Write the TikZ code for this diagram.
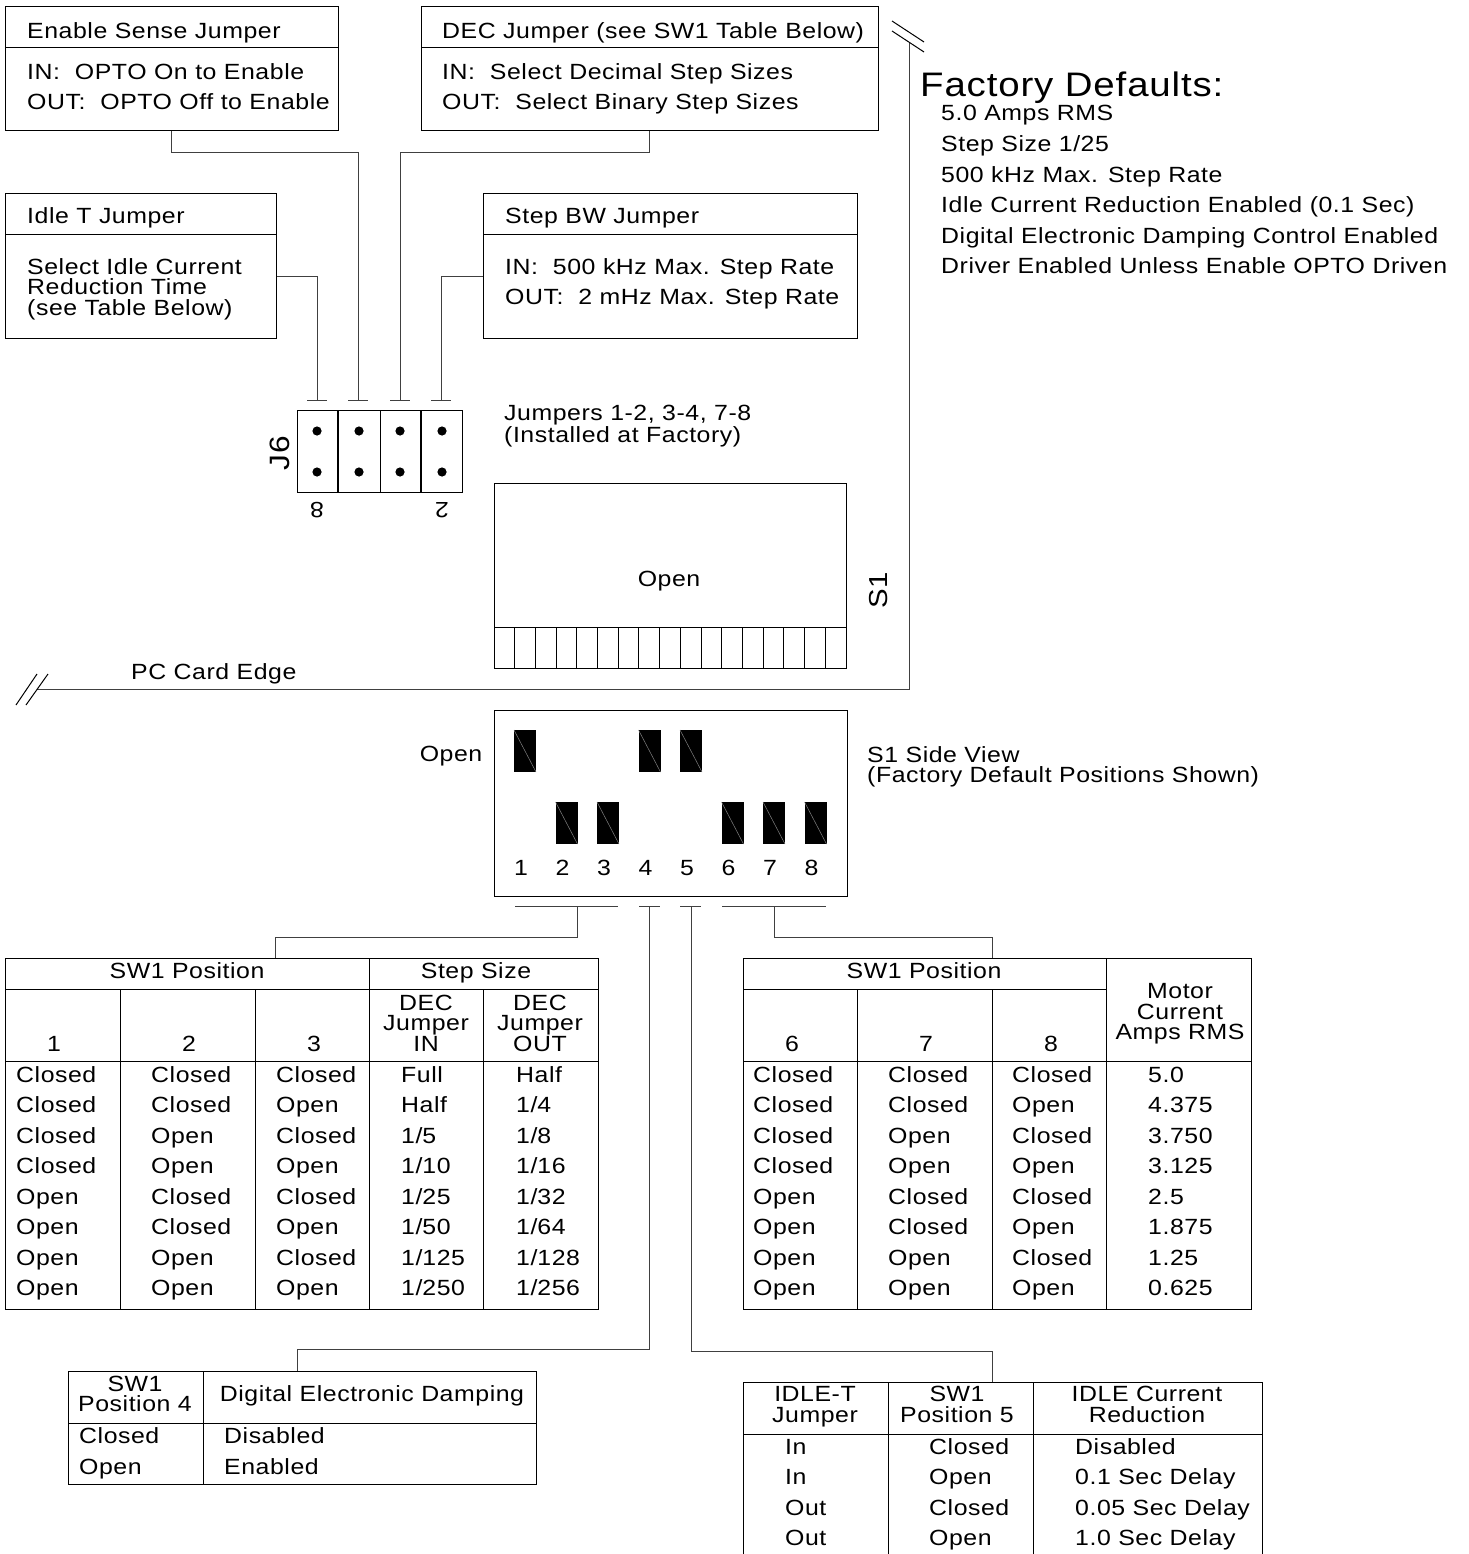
\documentclass[tikz,border=0pt]{standalone}
\usepackage{fontspec}
\setmainfont[FakeStretch=1.13,LetterSpace=2.5]{Liberation Sans}

\tikzset{
    boxshape/.style={draw, line width=1pt, minimum width=#1, inner sep=0pt},
    wire/.style={line width=1pt, draw=black!75},
    rule/.style={line width=1pt},
    label/.style={anchor=west, inner sep=0pt, text height=15.8pt, text depth=0pt, font=\fontsize{22}{20.5}\selectfont},
    midlabel/.style={inner sep=0pt, text height=15.8pt, text depth=0pt, font=\fontsize{22}{20.5}\selectfont},
    leftblock/.style={anchor=west, inner sep=0pt, align=left, yshift=-2.2pt, font=\fontsize{22}{20.5}\selectfont,
        execute at begin node=\vphantom{(}, execute at end node=\vphantom{(}},
    midblock/.style={inner sep=0pt, align=center, yshift=-2.2pt, font=\fontsize{22}{20.5}\selectfont,
        execute at begin node=\vphantom{(}, execute at end node=\vphantom{(}},
}

\begin{document}
\begin{tikzpicture}[x=1pt,y=-1pt]
    \useasboundingbox (0,0) rectangle (1468,1554);

    % Jumper boxes
    \node[boxshape=333pt, minimum height=124pt] (enablebox) at (171.5,69) {};
    \node[boxshape=457pt, minimum height=124pt] (decbox) at (649.5,69) {};
    \node[boxshape=271pt, minimum height=144pt] (idlebox) at (140.5,266) {};
    \node[boxshape=374pt, minimum height=144pt] (stepbox) at (670,266) {};
    \draw[rule] (5,48) -- (338,48);
    \draw[rule] (421,48) -- (878,48);
    \draw[rule] (5,235) -- (276,235);
    \draw[rule] (483,235) -- (857,235);

    % Jumper box texts
    \node[label] (enabletitle) at (27,31) {Enable Sense Jumper};
    \node[label] (enablein) at (27,72) {IN:\ \ OPTO On to Enable};
    \node[label] (enableout) at (27,102) {OUT:\ \ OPTO Off to Enable};
    \node[label] (dectitle) at (442,31) {DEC Jumper (see SW1 Table Below)};
    \node[label] (decin) at (442,72) {IN:\ \ Select Decimal Step Sizes};
    \node[label] (decout) at (442,102) {OUT:\ \ Select Binary Step Sizes};
    \node[label] (idletitle) at (27,216) {Idle T Jumper};
    \node[leftblock] (idletext) at (27,287) {Select Idle Current\\Reduction Time\\(see Table Below)};
    \node[label] (steptitle) at (505,216) {Step BW Jumper};
    \node[label] (stepin) at (505,267) {IN:\ \ 500 kHz Max. Step Rate};
    \node[label] (stepout) at (505,297) {OUT:\ \ 2 mHz Max. Step Rate};

    % Pin ends above J6
    \coordinate (pinA) at (317,400);
    \coordinate (pinB) at (358,400);
    \coordinate (pinC) at (400,400);
    \coordinate (pinD) at (441,400);
    \foreach \pin in {pinA,pinB,pinC,pinD}
        \draw[wire] ([xshift=-10pt]\pin) -- ([xshift=10pt]\pin);

    % Jumper connectors
    \draw[wire] ([yshift=-10pt]idlebox.east) -| (pinA);
    \draw[wire] (enablebox.south) -- ++(0,21) -| (pinB);
    \draw[wire] (decbox.south) -- ++(0,21) -| (pinC);
    \draw[wire] ([yshift=-10pt]stepbox.west) -| (pinD);

    % J6 block
    \node[boxshape=165pt, minimum height=82pt] (jsix) at (379.5,451.5) {};
    \draw[line width=1.6pt] (338,411) -- (338,492);
    \draw[rule] (380,411) -- (380,492);
    \draw[line width=1.6pt] (421,411) -- (421,492);
    \foreach \xpin in {317,359,400,442} {
        \fill (\xpin,431) circle (4.6);
        \fill (\xpin,472) circle (4.6);
    }
    \node[midlabel, rotate=90, font=\fontsize{28}{28}\selectfont, text height=20pt] (jsixname) at (279,453) {J6};
    \node[midlabel, rotate=180] (pineight) at (317,510) {8};
    \node[midlabel, rotate=180] (pintwo) at (442,510) {2};
    \node[leftblock] (jumpernote) at (504,424) {Jumpers 1-2, 3-4, 7-8\\(Installed at Factory)};

    % S1 top view
    \node[boxshape=352pt, minimum height=185pt] (sone) at (670,575.5) {};
    \draw[rule] (494,627) -- (846,627);
    \foreach \k in {1,...,16}
        \draw[rule] ({494+20.7*\k},627) -- ({494+20.7*\k},668);
    \node[midlabel] (soneopen) at (669,579) {Open};
    \node[midlabel, rotate=90, font=\fontsize{26}{26}\selectfont, text height=18.6pt] (sonename) at (878,590) {S1};

    % Card edges
    \coordinate (edgeleft) at (37,689);
    \coordinate (edgetop) at (909,42);
    \draw[wire] (edgeleft) -| (edgetop);
    \draw[rule] (892,21) -- (924,42);
    \draw[rule] (892,31) -- (924,52);
    \draw[rule] (16,705) -- (37,674);
    \draw[rule] (26,705) -- (48,674);
    \node[label] (edgename) at (131,672) {PC Card Edge};

    % Factory defaults
    \node[label, font=\fontsize{34}{34}\selectfont, text height=24.4pt] (defaults) at (920,84) {Factory Defaults:};
    \node[label] (defaultA) at (941,113) {5.0 Amps RMS};
    \node[label] (defaultB) at (941,144) {Step Size 1/25};
    \node[label] (defaultC) at (941,175) {500 kHz Max. Step Rate};
    \node[label] (defaultD) at (941,205) {Idle Current Reduction Enabled (0.1 Sec)};
    \node[label] (defaultE) at (941,236) {Digital Electronic Damping Control Enabled};
    \node[label] (defaultF) at (941,266) {Driver Enabled Unless Enable OPTO Driven};

    % S1 side view
    \node[boxshape=353pt, minimum height=186pt] (sideview) at (670.5,803) {};
    \node[midlabel] (sideopen) at (451,754) {Open};
    \node[leftblock] (sidenote) at (867,764.5) {S1 Side View\\(Factory Default Positions Shown)};
    \foreach \n/\ytop in {1/730,2/802,3/802,4/730,5/730,6/802,7/802,8/802} {
        \pgfmathsetmacro{\xleft}{514+41.5*(\n-1)}
        \fill (\xleft,\ytop) rectangle (\xleft+22,\ytop+42);
        \draw[gray, line width=0.5pt] (\xleft,\ytop) -- (\xleft+22,\ytop+42);
        \node[midlabel] (num\n) at (\xleft+7,868) {\n};
    }

    % Bars under the side view
    \coordinate (barA) at (577,906);
    \coordinate (barB) at (649,906);
    \coordinate (barC) at (691,906);
    \coordinate (barD) at (774,906);
    \draw[wire] (515,906) -- (618,906);
    \draw[wire] (639,906) -- (660,906);
    \draw[wire] (680,906) -- (701,906);
    \draw[wire] (722,906) -- (826,906);

    % Table boxes
    \node[boxshape=593pt, minimum height=351pt] (tableA) at (301.5,1133.5) {};
    \node[boxshape=508pt, minimum height=351pt] (tableB) at (997,1133.5) {};
    \node[boxshape=468pt, minimum height=113pt] (tableC) at (302,1427.5) {};
    \coordinate (tableAin) at (275,958);
    \coordinate (tableBin) at (992,958);
    \coordinate (tableCin) at (297,1371);
    \coordinate (tableDin) at (992,1382);

    % Table connectors
    \draw[wire] (barA) -- ++(0,31) -| (tableAin);
    \draw[wire] (barD) -- ++(0,31) -| (tableBin);
    \draw[wire] (barB) -- ++(0,443) -| (tableCin);
    \draw[wire] (barC) -- ++(0,445) -| (tableDin);

    % Table A
    \draw[rule] (5,989) -- (598,989);
    \draw[rule] (5,1061) -- (598,1061);
    \draw[rule] (369,958) -- (369,1309);
    \draw[rule] (120,989) -- (120,1309);
    \draw[rule] (255,989) -- (255,1309);
    \draw[rule] (483,989) -- (483,1309);
    \node[midlabel] (posA) at (187,971) {SW1 Position};
    \node[midlabel] (sizeA) at (476,971) {Step Size};
    \node[midlabel] (headAa) at (54,1044) {1};
    \node[midlabel] (headAb) at (189,1044) {2};
    \node[midlabel] (headAc) at (314,1044) {3};
    \node[midblock] (headAd) at (426,1023) {DEC\\Jumper\\IN};
    \node[midblock] (headAe) at (540,1023) {DEC\\Jumper\\OUT};
    \foreach \yrow/\ca/\cb/\cc/\cd/\ce [count=\r] in {
        1075/Closed/Closed/Closed/Full/Half,
        1105/Closed/Closed/Open/Half/1\slash 4,
        1136/Closed/Open/Closed/1\slash 5/1\slash 8,
        1166/Closed/Open/Open/1\slash 10/1\slash 16,
        1197/Open/Closed/Closed/1\slash 25/1\slash 32,
        1227/Open/Closed/Open/1\slash 50/1\slash 64,
        1258/Open/Open/Closed/1\slash 125/1\slash 128,
        1288/Open/Open/Open/1\slash 250/1\slash 256} {
        \node[label] (rowAa\r) at (16,\yrow) {\ca};
        \node[label] (rowAb\r) at (151,\yrow) {\cb};
        \node[label] (rowAc\r) at (276,\yrow) {\cc};
        \node[label] (rowAd\r) at (401,\yrow) {\cd};
        \node[label] (rowAe\r) at (516,\yrow) {\ce};
    }

    % Table B
    \draw[rule] (743,989) -- (1106,989);
    \draw[rule] (743,1061) -- (1251,1061);
    \draw[rule] (1106,958) -- (1106,1309);
    \draw[rule] (857,989) -- (857,1309);
    \draw[rule] (992,989) -- (992,1309);
    \node[midlabel] (posB) at (924,971) {SW1 Position};
    \node[midlabel] (headBa) at (792,1044) {6};
    \node[midlabel] (headBb) at (926,1044) {7};
    \node[midlabel] (headBc) at (1051,1044) {8};
    \node[midblock] (headBd) at (1180,1012) {Motor\\Current\\Amps RMS};
    \foreach \yrow/\ca/\cb/\cc/\cd [count=\r] in {
        1075/Closed/Closed/Closed/5.0,
        1105/Closed/Closed/Open/4.375,
        1136/Closed/Open/Closed/3.750,
        1166/Closed/Open/Open/3.125,
        1197/Open/Closed/Closed/2.5,
        1227/Open/Closed/Open/1.875,
        1258/Open/Open/Closed/1.25,
        1288/Open/Open/Open/0.625} {
        \node[label] (rowBa\r) at (753,\yrow) {\ca};
        \node[label] (rowBb\r) at (888,\yrow) {\cb};
        \node[label] (rowBc\r) at (1012,\yrow) {\cc};
        \node[label] (rowBd\r) at (1148,\yrow) {\cd};
    }

    % Table C
    \draw[rule] (68,1423) -- (536,1423);
    \draw[rule] (203,1371) -- (203,1484);
    \node[midblock] (headCa) at (135,1394) {SW1\\Position 4};
    \node[midlabel] (headCb) at (372,1394) {Digital Electronic Damping};
    \node[label] (rowCa) at (79,1436) {Closed};
    \node[label] (rowCb) at (224,1436) {Disabled};
    \node[label] (rowCc) at (79,1467) {Open};
    \node[label] (rowCd) at (224,1467) {Enabled};

    % Table D (open at the bottom)
    \draw[rule] (743,1554) -- (743,1382) -- (1262,1382) -- (1262,1554);
    \draw[rule] (743,1434) -- (1262,1434);
    \draw[rule] (888,1382) -- (888,1554);
    \draw[rule] (1033,1382) -- (1033,1554);
    \node[midblock] (headDa) at (815,1404.5) {IDLE-T\\Jumper};
    \node[midblock] (headDb) at (957,1404.5) {SW1\\Position 5};
    \node[midblock] (headDc) at (1147,1404.5) {IDLE Current\\Reduction};
    \foreach \yrow/\ca/\cb/\cc [count=\r] in {
        1447/In/Closed/Disabled,
        1477/In/Open/0.1 Sec Delay,
        1508/Out/Closed/0.05 Sec Delay,
        1538/Out/Open/1.0 Sec Delay} {
        \node[label] (rowDa\r) at (785,\yrow) {\ca};
        \node[label] (rowDb\r) at (929,\yrow) {\cb};
        \node[label] (rowDc\r) at (1075,\yrow) {\cc};
    }

\end{tikzpicture}
\end{document}
